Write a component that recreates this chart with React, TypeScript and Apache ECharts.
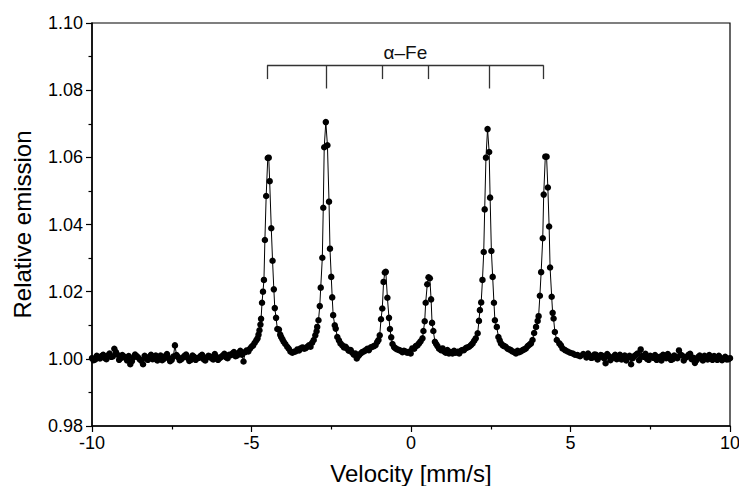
import React, { useEffect, useRef } from "react";
import * as echarts from "echarts";

// Measured points [velocity mm/s, relative emission]
const baselineLeft: [number, number][] = [
  [-10.0, 1.0002], [-9.9, 0.9998], [-9.8, 1.0004], [-9.7, 1.0008], [-9.6, 1.0003],
  [-9.5, 1.001], [-9.4, 1.0006], [-9.3, 1.003], [-9.2, 1.0012], [-9.1, 1.0002],
  [-9.0, 1.0007], [-8.9, 0.9995], [-8.8, 0.9984], [-8.7, 1.0004], [-8.6, 1.0008],
  [-8.5, 0.9998], [-8.4, 0.9984], [-8.3, 1.0002], [-8.2, 1.0006], [-8.1, 0.9999],
  [-8.0, 1.001], [-7.9, 1.0003], [-7.8, 0.9996], [-7.7, 1.0008], [-7.6, 1.0002],
  [-7.5, 0.9997], [-7.4, 1.004], [-7.3, 1.0005], [-7.2, 0.9999], [-7.1, 1.0009],
  [-7.0, 1.0003], [-6.9, 0.9997], [-6.8, 1.0006], [-6.7, 1.0002], [-6.6, 1.0008],
  [-6.5, 0.9999], [-6.4, 1.0004], [-6.3, 1.0007], [-6.2, 0.9998], [-6.1, 1.0006],
  [-6.0, 1.0002], [-5.9, 1.001], [-5.8, 1.0005], [-5.7, 1.0012], [-5.6, 1.0016],
  [-5.5, 1.0008], [-5.4, 1.0018], [-5.3, 1.0012],
];

const baselineLeftMid: [number, number][] = [
  [-9.95, 0.9996], [-9.85, 1.0009], [-9.75, 1.0001], [-9.65, 1.0012], [-9.55, 0.9999],
  [-9.45, 1.0016], [-9.35, 1.0007], [-9.25, 1.002], [-9.15, 0.9997], [-9.05, 1.0011],
  [-8.95, 1.0003], [-8.85, 1.0008], [-8.75, 0.9993], [-8.65, 1.0013], [-8.55, 1.0004],
  [-8.45, 0.9994], [-8.35, 1.0009], [-8.25, 0.9997], [-8.15, 1.0012], [-8.05, 1.0001],
  [-7.95, 0.9995], [-7.85, 1.001], [-7.75, 1.0], [-7.65, 1.0014], [-7.55, 0.9993],
  [-7.45, 1.0007], [-7.35, 1.0011], [-7.25, 0.9996], [-7.15, 1.0004], [-7.05, 1.0013],
  [-6.95, 0.9994], [-6.85, 1.001], [-6.75, 0.9997], [-6.65, 1.0003], [-6.55, 1.0012],
  [-6.45, 0.9995], [-6.35, 1.0009], [-6.25, 1.0002], [-6.15, 1.0014], [-6.05, 0.9997],
  [-5.95, 1.0006], [-5.85, 1.0015], [-5.75, 1.0002], [-5.65, 1.0011], [-5.55, 1.002],
  [-5.45, 1.001], [-5.35, 1.0024],
];

const sextetRegion: [number, number][] = [
  [-5.25, 0.9992], [-5.2, 1.002], [-5.15, 1.0025], [-5.1, 1.0022], [-5.05, 1.003],
  [-5.0, 1.0036], [-4.95, 1.004], [-4.9, 1.0048], [-4.85, 1.0055], [-4.81, 1.0061],
  [-4.78, 1.0072], [-4.75, 1.0085], [-4.72, 1.0102], [-4.7, 1.0119], [-4.67, 1.0167],
  [-4.64, 1.02], [-4.61, 1.0235], [-4.58, 1.0354], [-4.54, 1.0485], [-4.49, 1.0598],
  [-4.46, 1.0599], [-4.43, 1.0529], [-4.38, 1.0389], [-4.34, 1.0292], [-4.3, 1.0207],
  [-4.27, 1.0151], [-4.23, 1.0122], [-4.19, 1.0089], [-4.14, 1.0087], [-4.1, 1.0072],
  [-4.07, 1.0065], [-4.03, 1.0058], [-3.99, 1.0051], [-3.94, 1.0044], [-3.88, 1.0036],
  [-3.83, 1.003], [-3.78, 1.0022], [-3.72, 1.0018], [-3.67, 1.0021], [-3.62, 1.0022],
  [-3.56, 1.0028], [-3.51, 1.0025], [-3.46, 1.0031], [-3.4, 1.0034], [-3.35, 1.003],
  [-3.3, 1.0032], [-3.25, 1.0036], [-3.2, 1.004], [-3.15, 1.0036], [-3.1, 1.0048],
  [-3.05, 1.0056], [-3.0, 1.007], [-2.96, 1.0082], [-2.94, 1.0095], [-2.9, 1.0115],
  [-2.86, 1.0157], [-2.83, 1.0212], [-2.78, 1.0301], [-2.75, 1.045], [-2.72, 1.063],
  [-2.67, 1.0705], [-2.62, 1.0636], [-2.57, 1.0468], [-2.54, 1.0328], [-2.5, 1.0244],
  [-2.47, 1.0183], [-2.44, 1.013], [-2.39, 1.01], [-2.36, 1.009], [-2.31, 1.0065],
  [-2.26, 1.0055], [-2.21, 1.0046], [-2.15, 1.004], [-2.1, 1.0034], [-2.05, 1.0036],
  [-2.0, 1.003], [-1.95, 1.0024], [-1.89, 1.0026], [-1.84, 1.0018], [-1.79, 1.0012],
  [-1.74, 1.0016], [-1.7, 1.0001], [-1.66, 1.0008], [-1.63, 1.0011], [-1.58, 1.0016],
  [-1.53, 1.002], [-1.48, 1.0022], [-1.43, 1.0025], [-1.37, 1.003], [-1.32, 1.0026],
  [-1.26, 1.0034], [-1.21, 1.0036], [-1.16, 1.0038], [-1.11, 1.0041], [-1.06, 1.005],
  [-1.02, 1.0056], [-0.98, 1.007], [-0.94, 1.0118], [-0.9, 1.015], [-0.86, 1.0229],
  [-0.82, 1.0257], [-0.79, 1.0259], [-0.74, 1.0182], [-0.69, 1.0122], [-0.66, 1.0089],
  [-0.62, 1.0064], [-0.58, 1.0044], [-0.53, 1.0035], [-0.48, 1.0031], [-0.43, 1.0028],
  [-0.37, 1.0026], [-0.32, 1.0024], [-0.27, 1.002], [-0.22, 1.0024], [-0.17, 1.0022],
  [-0.12, 1.0018], [-0.06, 1.0021], [-0.01, 1.0016], [0.04, 1.0031], [0.1, 1.003],
  [0.15, 1.0038], [0.2, 1.004], [0.25, 1.0046], [0.3, 1.0052], [0.36, 1.0061],
  [0.39, 1.0083], [0.43, 1.0112], [0.46, 1.0167], [0.51, 1.0222], [0.55, 1.0243],
  [0.59, 1.024], [0.63, 1.0177], [0.66, 1.0107], [0.7, 1.0083], [0.75, 1.0051],
  [0.79, 1.0044], [0.83, 1.0038], [0.88, 1.003], [0.94, 1.0026], [0.99, 1.0031],
  [1.04, 1.0022], [1.09, 1.0018], [1.14, 1.0026], [1.19, 1.0016], [1.25, 1.002],
  [1.3, 1.0016], [1.35, 1.0024], [1.4, 1.0018], [1.46, 1.0021], [1.51, 1.0016],
  [1.56, 1.0024], [1.61, 1.0026], [1.66, 1.0026], [1.72, 1.0032], [1.77, 1.0034],
  [1.82, 1.0036], [1.88, 1.0041], [1.93, 1.0046], [1.98, 1.0054], [2.03, 1.0061],
  [2.09, 1.0076], [2.13, 1.0113], [2.16, 1.0145], [2.2, 1.0168], [2.24, 1.0235],
  [2.28, 1.0318], [2.31, 1.0445], [2.35, 1.0599], [2.4, 1.0684], [2.45, 1.0616],
  [2.48, 1.048], [2.52, 1.0321], [2.56, 1.0244], [2.6, 1.0167], [2.63, 1.0115],
  [2.69, 1.0095], [2.74, 1.0065], [2.78, 1.0055], [2.82, 1.0046], [2.88, 1.004],
  [2.92, 1.0038], [2.97, 1.0036], [3.03, 1.003], [3.08, 1.0028], [3.13, 1.0026],
  [3.18, 1.0022], [3.24, 1.002], [3.29, 1.0016], [3.34, 1.0024], [3.39, 1.002],
  [3.44, 1.0022], [3.5, 1.0026], [3.55, 1.0028], [3.6, 1.0031], [3.66, 1.0038],
  [3.71, 1.0042], [3.76, 1.0046], [3.81, 1.0056], [3.86, 1.0077], [3.92, 1.0095],
  [3.97, 1.0113], [4.0, 1.0127], [4.04, 1.0188], [4.08, 1.0258], [4.13, 1.0359],
  [4.16, 1.0489], [4.21, 1.0602], [4.25, 1.0602], [4.29, 1.051], [4.33, 1.0394],
  [4.36, 1.0272], [4.41, 1.0185], [4.44, 1.0137], [4.47, 1.012], [4.51, 1.008],
  [4.57, 1.0056], [4.65, 1.0046], [4.7, 1.004], [4.75, 1.0031], [4.83, 1.0026],
  [4.91, 1.0022], [4.99, 1.0018], [5.07, 1.0016], [5.14, 1.0012], [5.22, 1.0011],
  [5.3, 1.0008], [5.4, 1.0014], [5.5, 1.0004],
];

const baselineRight: [number, number][] = [
  [5.6, 1.001], [5.7, 1.0004], [5.8, 1.0012], [5.9, 1.0006], [6.0, 1.0009],
  [6.1, 0.9987], [6.2, 1.0008], [6.3, 1.0002], [6.4, 1.0012], [6.5, 1.0005],
  [6.6, 0.9998], [6.7, 1.001], [6.8, 1.0004], [6.9, 0.9984], [7.0, 1.0008],
  [7.1, 1.0016], [7.2, 1.0028], [7.3, 1.0006], [7.4, 1.0], [7.5, 1.0009],
  [7.6, 1.0003], [7.7, 0.9997], [7.8, 1.0006], [7.9, 1.0012], [8.0, 1.0002],
  [8.1, 1.0008], [8.2, 0.9999], [8.3, 1.0006], [8.4, 1.0025], [8.5, 1.001],
  [8.6, 1.0003], [8.7, 1.0012], [8.8, 0.9999], [8.9, 0.9988], [9.0, 1.0005],
  [9.1, 1.0001], [9.2, 1.0009], [9.3, 0.9998], [9.4, 1.0004], [9.5, 1.0008],
  [9.6, 0.9997], [9.7, 1.0003], [9.8, 1.0], [9.9, 0.9998], [10.0, 1.0002],
];

const baselineRightMid: [number, number][] = [
  [5.55, 1.0016], [5.65, 1.0003], [5.75, 1.0013], [5.85, 0.9998], [5.95, 1.0011],
  [6.05, 1.0002], [6.15, 1.0014], [6.25, 0.9996], [6.35, 1.0007], [6.45, 0.9999],
  [6.55, 1.0012], [6.65, 1.0004], [6.75, 0.9995], [6.85, 1.0009], [6.95, 1.0002],
  [7.05, 1.0012], [7.15, 0.9996], [7.25, 1.0008], [7.35, 1.0015], [7.45, 0.9997],
  [7.55, 1.0006], [7.65, 1.0011], [7.75, 1.0001], [7.85, 0.9995], [7.95, 1.0009],
  [8.05, 1.0014], [8.15, 0.9997], [8.25, 1.001], [8.35, 1.0002], [8.45, 1.0012],
  [8.55, 0.9995], [8.65, 1.0006], [8.75, 1.0015], [8.85, 1.0003], [8.95, 0.9996],
  [9.05, 1.001], [9.15, 0.9995], [9.25, 1.0004], [9.35, 1.0011], [9.45, 0.9997],
  [9.55, 1.0005], [9.65, 1.0009], [9.75, 0.9996], [9.85, 1.0006], [9.95, 0.9999],
];

// α-Fe sextet line positions (bracket)
const bracketLabel = "α–Fe";
const bracketLevel = 1.0874;
const bracketPositions = [-4.51, -2.66, -0.9, 0.556, 2.45, 4.157];
const bracketTickEnds = [1.0833, 1.0805, 1.0833, 1.0833, 1.0805, 1.0833];

const xTicks = { min: -10, max: 10, interval: 5 };
const yTicks = { min: 0.98, max: 1.1, interval: 0.02 };

const FONT = "'Liberation Sans', Arial, Helvetica, sans-serif";

export default function App() {
  const ref = useRef<HTMLDivElement>(null);

  useEffect(() => {
    if (!ref.current) return;
    const chart = echarts.init(ref.current, undefined, { renderer: "svg" });
    const measured = [
      ...baselineLeft,
      ...baselineLeftMid,
      ...sextetRegion,
      ...baselineRight,
      ...baselineRightMid,
    ].sort((a, b) => a[0] - b[0]);

    const bracketLines: any[] = [
      [
        { coord: [bracketPositions[0], bracketLevel] },
        { coord: [bracketPositions[bracketPositions.length - 1], bracketLevel] },
      ],
      ...bracketPositions.map((p, i) => [
        { coord: [p, bracketLevel] },
        { coord: [p, bracketTickEnds[i]] },
      ]),
    ];

    chart.setOption({
      animation: false,
      backgroundColor: "#ffffff",
      textStyle: { fontFamily: FONT },
      grid: {
        left: 92,
        right: 9,
        top: 23,
        bottom: 60,
        show: true,
        borderColor: "#000",
        borderWidth: 1.2,
        containLabel: false,
        outerBoundsMode: "none",
      },
      xAxis: {
        type: "value",
        min: xTicks.min,
        max: xTicks.max,
        interval: xTicks.interval,
        name: "Velocity [mm/s]",
        nameLocation: "middle",
        nameGap: 36,
        nameTextStyle: { fontSize: 24, lineHeight: 22, color: "#000", fontFamily: FONT },
        axisLine: { show: true, onZero: false, lineStyle: { color: "#000", width: 1.5 } },
        axisTick: { show: true, inside: false, length: 6, lineStyle: { color: "#000", width: 1.2 } },
        minorTick: { show: true, splitNumber: 2, length: 3.5, lineStyle: { color: "#000", width: 1.2 } },
        splitLine: { show: false },
        axisLabel: { fontSize: 18, color: "#000", margin: 8, fontFamily: FONT },
      },
      yAxis: {
        type: "value",
        min: yTicks.min,
        max: yTicks.max,
        interval: yTicks.interval,
        name: "Relative emission",
        nameLocation: "middle",
        nameGap: 58,
        nameTextStyle: { fontSize: 24, color: "#000", fontFamily: FONT },
        axisLine: { show: true, onZero: false, lineStyle: { color: "#000", width: 1.5 } },
        axisTick: { show: true, inside: false, length: 6, lineStyle: { color: "#000", width: 1.2 } },
        minorTick: { show: true, splitNumber: 2, length: 3.5, lineStyle: { color: "#000", width: 1.2 } },
        splitLine: { show: false },
        axisLabel: {
          fontSize: 18,
          color: "#000",
          margin: 9,
          fontFamily: FONT,
          formatter: (v: number) => v.toFixed(2),
        },
      },
      series: [
        {
          type: "line",
          data: measured,
          symbol: "circle",
          symbolSize: 6.5,
          showSymbol: true,
          showAllSymbol: true,
          itemStyle: { color: "#000" },
          lineStyle: { color: "#000", width: 1 },
          silent: true,
          markLine: {
            silent: true,
            symbol: ["none", "none"],
            lineStyle: { color: "#333", width: 1.3, type: "solid" },
            label: { show: false },
            data: bracketLines,
          },
        },
        {
          type: "line",
          data: [],
          silent: true,
          markLine: {
            silent: true,
            symbol: ["none", "none"],
            lineStyle: { color: "rgba(0,0,0,0)", width: 0 },
            label: {
              show: true,
              position: "insideMiddleTop",
              formatter: bracketLabel,
              fontSize: 19,
              color: "#111",
              fontFamily: FONT,
              distance: 3,
            },
            data: [
              [
                { coord: [bracketPositions[0], bracketLevel] },
                { coord: [bracketPositions[bracketPositions.length - 1], bracketLevel] },
              ],
            ],
          },
        },
      ],
    });

    return () => chart.dispose();
  }, []);

  return (
    <div
      ref={ref}
      style={{ position: "fixed", left: 0, top: 0, width: 739, height: 486 }}
    />
  );
}
